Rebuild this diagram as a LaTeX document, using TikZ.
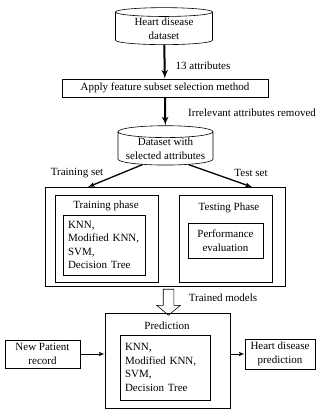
\documentclass[tikz,border=0pt]{standalone}
\usepackage{fontspec}
\setmainfont{Liberation Serif}
\usetikzlibrary{arrows,positioning,shapes.geometric,shapes.arrows}
\tikzstyle{db}=[draw, cylinder, shape border rotate=90, aspect=0.15, align=center, inner sep=0pt]
\tikzstyle{proc}=[draw, align=center, inner sep=0pt]
\tikzstyle{phase}=[draw, inner sep=0pt]
\tikzstyle{algo}=[draw, align=left, text width=72pt, inner xsep=5pt, inner ysep=0pt]
\tikzstyle{io}=[draw, align=center, inner sep=0pt]
\tikzstyle{lbl}=[inner sep=0pt]

\begin{document}
\begin{tikzpicture}[x=1pt,y=-1pt,>=latex',font=\fontsize{11}{13.5}\selectfont,line width=0.6pt]
    \useasboundingbox (0,0) rectangle (320,411);
    % data sources
    \node [db, minimum width=97pt, minimum height=37pt] (hd) at (164,28.5) {Heart disease\\dataset};
    \node [proc, minimum width=206pt, minimum height=18pt] (sel) at (165,88) {Apply feature subset selection method};
    \node [db, minimum width=95pt, minimum height=37pt] (ds) at (165.5,148.5) {Dataset with\\selected attributes};
    % training and testing
    \node [phase, minimum width=240pt, minimum height=99pt] (outer) at (165,236.5) {};
    \node [phase, minimum width=103pt, minimum height=87pt] (train) at (106.5,238.5) {};
    \node [lbl] (traint) at (106,206) {Training phase};
    \node [algo, minimum height=60pt] (trainalgo) at (104,245) {KNN,\\Modified KNN,\\SVM,\\Decision Tree};
    \node [phase, minimum width=93pt, minimum height=87pt] (test) at (225.5,238.5) {};
    \node [lbl] (testt) at (229,208) {Testing Phase};
    \node [io, minimum width=75pt, minimum height=35pt] (perf) at (225.5,240.5) {Performance\\evaluation};
    % prediction
    \node [single arrow, draw, shape border rotate=270, minimum height=26pt, minimum width=23pt, inner sep=5pt, single arrow head extend=6.5pt, single arrow tip angle=100] (tm) at (168.5,300) {};
    \node [lbl] (tmt) at (223,298) {Trained models};
    \node [phase, minimum width=125pt, minimum height=95pt] (pred) at (167.5,360.5) {};
    \node [lbl] (predt) at (167,326) {Prediction};
    \node [algo, text width=80pt, minimum height=65pt] (predalgo) at (165,367.5) {KNN,\\Modified KNN,\\SVM,\\Decision Tree};
    \node [io, minimum width=75pt, minimum height=28pt] (newp) at (42.5,354) {New Patient\\record};
    \node [io, minimum width=70pt, minimum height=30pt] (hdp) at (280,354) {Heart disease\\prediction};
    \coordinate (trs) at (88,187);
    \coordinate (tss) at (252,187);
    \node [lbl] (trl) at (77,173) {Training set};
    \node [lbl] (tsl) at (251,173) {Test set};
    \node [lbl] (atl) at (203,66) {13 attributes};
    \draw[->, line width=2pt] (hd) -- (sel);
    \draw[->, line width=2pt] (sel) -- (ds) node[lbl, pos=0.55, right=22pt] {Irrelevant attributes removed};
    \draw[->, line width=1.3pt] (ds.215) -- (trs);
    \draw[->, line width=1.3pt] (ds.325) -- (tss);
    \draw[->, line width=1pt] (newp) -- (pred.west |- newp);
    \draw[->, line width=1pt] (pred.east |- hdp) -- (hdp);
\end{tikzpicture}
\end{document}
